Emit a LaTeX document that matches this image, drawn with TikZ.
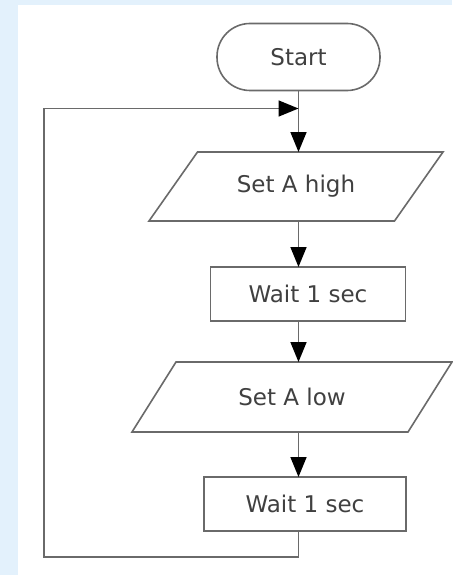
\documentclass[tikz,border=0pt]{standalone}
\usepackage{fontspec}
\setmainfont{DejaVu Sans}
\usetikzlibrary{arrows.meta}
\definecolor{panel}{HTML}{E3F1FC}
\definecolor{edge}{HTML}{6A6A6A}
\definecolor{ink}{HTML}{404040}
\begin{document}
\begin{tikzpicture}[x=1pt,y=-1pt,
  box/.style={line width=1.6pt,text=ink,
              font=\fontsize{23}{27}\selectfont,inner sep=0pt,outer sep=0pt},
  terminal/.style={box,draw=edge,fill=white,rectangle,rounded corners=33pt,
                   minimum width=163pt,minimum height=67pt},
  proc/.style={box,draw=edge,fill=white,rectangle,minimum height=54pt},
  % body of an input/output block; its slanted outline is drawn separately
  iobody/.style={box,rectangle},
  outline/.style={draw=edge,line width=1.6pt,line join=miter},
  flow/.style={draw=edge,line width=1.6pt,-{Triangle[length=20pt,width=16pt,black]}}]
  \useasboundingbox (0,0) rectangle (452,575);
  % page panel
  \fill[panel] (0,0) rectangle (452,575);
  \fill[white] (18,5) rectangle (452,575);

  % flowchart blocks
  \node[terminal] (start) at (298.5,57) {Start};
  \node[iobody,minimum width=245.5pt,minimum height=69pt] (high) at (296,186.5) {Set A high};
  \node[proc,minimum width=195pt] (wait1) at (308,294) {Wait 1 sec};
  \node[iobody,minimum width=276pt,minimum height=70pt] (low) at (292,397) {Set A low};
  \node[proc,minimum width=202pt] (wait2) at (305,504) {Wait 1 sec};

  % slanted outlines of the input/output blocks
  \draw[outline] ([xshift=-24.25pt]high.south west) -- ([xshift=24.25pt]high.north west)
    -- ([xshift=24.25pt]high.north east) -- ([xshift=-24.25pt]high.south east) -- cycle;
  \draw[outline] ([xshift=-22pt]low.south west) -- ([xshift=22pt]low.north west)
    -- ([xshift=22pt]low.north east) -- ([xshift=-22pt]low.south east) -- cycle;

  % loop-back points
  \coordinate (join) at ([yshift=-18pt]start.south);
  \coordinate (bend) at (44,557);

  % connectors
  \draw[flow] (start.south) -- (start.south |- high.north);
  \draw[flow] (high.south -| start.south) -- (start.south |- wait1.north);
  \draw[flow] (wait1.south -| start.south) -- (start.south |- low.north);
  \draw[flow] (low.south -| start.south) -- (start.south |- wait2.north);
  \draw[flow] (wait2.south -| start.south) -- (start.south |- bend) -- (bend) |- (join);
\end{tikzpicture}
\end{document}
